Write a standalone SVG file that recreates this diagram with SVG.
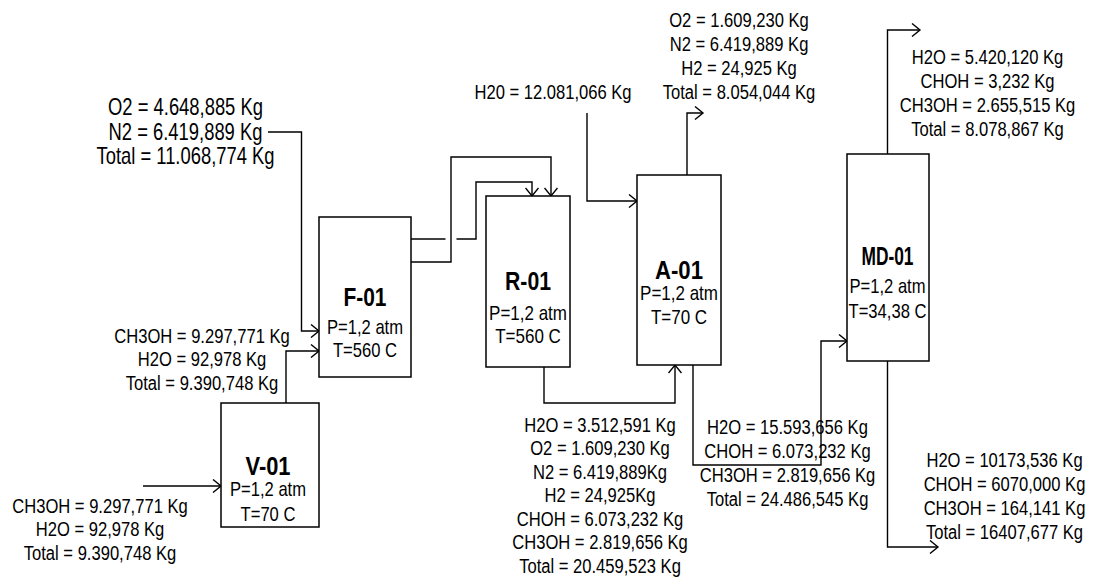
<svg xmlns="http://www.w3.org/2000/svg" width="1095" height="585" viewBox="0 0 1095 585">
<defs>
<style>
.box{fill:#fff;stroke:#000;stroke-width:1.5}
.ln{fill:none;stroke:#000;stroke-width:1.4}
.t{font-family:"Liberation Sans",Arial,sans-serif;font-size:21px;fill:#000;text-anchor:middle}
.p{font-family:"Liberation Sans",Arial,sans-serif;font-size:20px;fill:#000;text-anchor:middle}
.tl{font-family:"Liberation Sans",Arial,sans-serif;font-size:23px;fill:#000;text-anchor:middle}
.lb{font-family:"Liberation Sans",Arial,sans-serif;font-size:25px;font-weight:bold;fill:#000;text-anchor:middle}
</style>
<marker id="ar" markerUnits="userSpaceOnUse" viewBox="0 0 12 14" markerWidth="12" markerHeight="14" refX="10" refY="7" orient="auto">
<path d="M2,0.5 L10,7 L2,13.5" fill="none" stroke="#000" stroke-width="1.4"/>
</marker>
</defs>
<rect width="1095" height="585" fill="#fff"/>

<g id="connectors">
<path class="ln" d="M268,132 H301.5 V331 H319" marker-end="url(#ar)"/>
<path class="ln" d="M286,403 V351 H319" marker-end="url(#ar)"/>
<path class="ln" d="M143,486 H221" marker-end="url(#ar)"/>
<path class="ln" d="M411,239 H445.5"/>
<path class="ln" d="M456.5,239 H476 V182 H532 V196" marker-end="url(#ar)"/>
<path class="ln" d="M411,262 H451 V157 H551 V196" marker-end="url(#ar)"/>
<path class="ln" d="M544,367 V403 H675 V365" marker-end="url(#ar)"/>
<path class="ln" d="M687,175 V113 H703" marker-end="url(#ar)"/>
<path class="ln" d="M587,113 V201 H637" marker-end="url(#ar)"/>
<path class="ln" d="M693,365 V465 H821 V341 H847" marker-end="url(#ar)"/>
<path class="ln" d="M887.5,154 V30 H920" marker-end="url(#ar)"/>
<path class="ln" d="M887.5,361 V547 H938" marker-end="url(#ar)"/>
</g>

<g id="V-01">
<rect class="box" x="221" y="403" width="98" height="124"/>
<text class="lb" x="268" y="475" textLength="45" lengthAdjust="spacingAndGlyphs">V-01</text>
<g transform="translate(268 0) scale(0.83 1)">
<text class="p" x="0" y="496">P=1,2 atm</text>
<text class="p" x="0" y="521">T=70 C</text>
</g>
</g>

<g id="F-01">
<rect class="box" x="319" y="217" width="92" height="160"/>
<text class="lb" x="365" y="306" textLength="43" lengthAdjust="spacingAndGlyphs">F-01</text>
<g transform="translate(365 0) scale(0.83 1)">
<text class="p" x="0" y="334">P=1,2 atm</text>
<text class="p" x="0" y="357">T=560 C</text>
</g>
</g>

<g id="R-01">
<rect class="box" x="486" y="196" width="84" height="171"/>
<text class="lb" x="528" y="290" textLength="46" lengthAdjust="spacingAndGlyphs">R-01</text>
<g transform="translate(528 0) scale(0.85 1)">
<text class="p" x="0" y="320">P=1,2 atm</text>
<text class="p" x="0" y="343">T=560 C</text>
</g>
</g>

<g id="A-01">
<rect class="box" x="637" y="175" width="84" height="190"/>
<text class="lb" x="679" y="279" textLength="48" lengthAdjust="spacingAndGlyphs">A-01</text>
<g transform="translate(679 0) scale(0.85 1)">
<text class="p" x="0" y="300">P=1,2 atm</text>
<text class="p" x="0" y="324">T=70 C</text>
</g>
</g>

<g id="MD-01">
<rect class="box" x="847" y="154" width="82" height="207"/>
<text class="lb" x="887.5" y="265" textLength="52" lengthAdjust="spacingAndGlyphs">MD-01</text>
<g transform="translate(887.5 0) scale(0.83 1)">
<text class="p" x="0" y="293">P=1,2 atm</text>
<text class="p" x="0" y="318">T=34,38 C</text>
</g>
</g>

<g id="label-air" transform="translate(185.5 0) scale(0.8 1)">
<text class="tl" x="0" y="115">O2 = 4.648,885 Kg</text>
<text class="tl" x="0" y="140">N2 = 6.419,889 Kg</text>
<text class="tl" x="0" y="164">Total = 11.068,774 Kg</text>
</g>

<g id="label-v01-feed" transform="translate(100 0) scale(0.79 1)">
<text class="t" x="0" y="513">CH3OH = 9.297,771 Kg</text>
<text class="t" x="0" y="536.5">H2O = 92,978 Kg</text>
<text class="t" x="0" y="560">Total = 9.390,748 Kg</text>
</g>

<g id="label-v01-out" transform="translate(202 0) scale(0.79 1)">
<text class="t" x="0" y="343">CH3OH = 9.297,771 Kg</text>
<text class="t" x="0" y="366.5">H2O = 92,978 Kg</text>
<text class="t" x="0" y="390">Total = 9.390,748 Kg</text>
</g>

<g id="label-h2o-feed" transform="translate(553 0) scale(0.79 1)">
<text class="t" x="0" y="99">H20 = 12.081,066 Kg</text>
</g>

<g id="label-a01-top" transform="translate(739 0) scale(0.79 1)">
<text class="t" x="0" y="27">O2 = 1.609,230 Kg</text>
<text class="t" x="0" y="51">N2 = 6.419,889 Kg</text>
<text class="t" x="0" y="75">H2 = 24,925 Kg</text>
<text class="t" x="0" y="99">Total = 8.054,044 Kg</text>
</g>

<g id="label-r01-out" transform="translate(600 0) scale(0.79 1)">
<text class="t" x="0" y="432">H2O = 3.512,591 Kg</text>
<text class="t" x="0" y="455.5">O2 = 1.609,230 Kg</text>
<text class="t" x="0" y="479">N2 = 6.419,889Kg</text>
<text class="t" x="0" y="502.5">H2 = 24,925Kg</text>
<text class="t" x="0" y="526">CHOH = 6.073,232 Kg</text>
<text class="t" x="0" y="549.5">CH3OH = 2.819,656 Kg</text>
<text class="t" x="0" y="573">Total = 20.459,523 Kg</text>
</g>

<g id="label-a01-out" transform="translate(787.5 0) scale(0.79 1)">
<text class="t" x="0" y="434.5">H2O = 15.593,656 Kg</text>
<text class="t" x="0" y="458.5">CHOH = 6.073,232 Kg</text>
<text class="t" x="0" y="482.5">CH3OH = 2.819,656 Kg</text>
<text class="t" x="0" y="506.5">Total = 24.486,545 Kg</text>
</g>

<g id="label-md01-top" transform="translate(987.5 0) scale(0.79 1)">
<text class="t" x="0" y="64.5">H2O = 5.420,120 Kg</text>
<text class="t" x="0" y="88.5">CHOH = 3,232 Kg</text>
<text class="t" x="0" y="112.5">CH3OH = 2.655,515 Kg</text>
<text class="t" x="0" y="136.5">Total = 8.078,867 Kg</text>
</g>

<g id="label-md01-bottom" transform="translate(1004.5 0) scale(0.79 1)">
<text class="t" x="0" y="467">H2O = 10173,536 Kg</text>
<text class="t" x="0" y="491">CHOH = 6070,000 Kg</text>
<text class="t" x="0" y="515">CH3OH = 164,141 Kg</text>
<text class="t" x="0" y="539">Total = 16407,677 Kg</text>
</g>
</svg>
